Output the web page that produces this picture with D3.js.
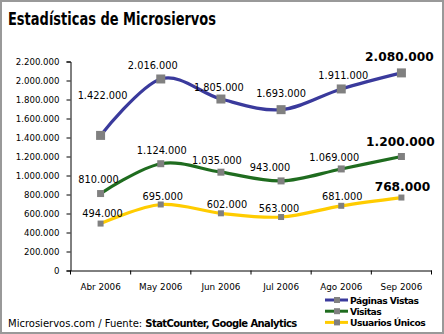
<!DOCTYPE html>
<html><head><meta charset="utf-8">
<script src="https://cdn.jsdelivr.net/npm/d3@7"></script>
<style>body{margin:0;background:#fff}svg{display:block}</style>
</head><body>
<script>
const categories = ["Abr 2006","May 2006","Jun 2006","Jul 2006","Ago 2006","Sep 2006"];
const paginasVistas = [1422000, 2016000, 1805000, 1693000, 1911000, 2080000];
const visitas = [810000, 1124000, 1035000, 943000, 1069000, 1200000];
const usuariosUnicos = [494000, 695000, 602000, 563000, 681000, 768000];
const yTicks = [0,200000,400000,600000,800000,1000000,1200000,1400000,1600000,1800000,2000000,2200000];
const seriesNames = ["Páginas Vistas","Visitas","Usuarios Únicos"];

// label nudges (dx, dy) relative to each point
const nudgePaginas = [[2,-40],[-8,-13],[-2,-12],[0,-16],[2,-13],[-2,-16]];
const nudgeVisitas = [[-2,-14],[1,-13],[-4,-12],[-11,-13],[-7,-11],[-1,-15]];
const nudgeUsuarios = [[2,-10],[2,-8],[6,-9],[-2,-9],[1,-9],[1,-11]];

const W = 444, H = 334;
const svg = d3.select("body").append("svg").attr("width", W).attr("height", H);
svg.append("rect").attr("x",1).attr("y",1).attr("width",W-2).attr("height",H-2)
  .attr("fill","#fff").attr("stroke","#999").attr("stroke-width",2);

const loc = d3.formatLocale({decimal:",", thousands:".", grouping:[3], currency:["",""]});
const fmt = loc.format(",d");

const x = d3.scaleBand().domain(categories).range([70.5, 431.5]).padding(0);
const y = d3.scaleLinear().domain([0, 2200000]).range([270.5, 61.5]);
const cx = c => x(c) + x.bandwidth()/2;

svg.append("text").attr("x",8).attr("y",25)
  .attr("font-family","DejaVu Sans").attr("font-weight","bold").attr("font-size",17)
  .attr("textLength",208).attr("lengthAdjust","spacingAndGlyphs")
  .text("Estadísticas de Microsiervos");

// y axis
const ya = svg.append("g").attr("transform","translate(70.5,0)")
  .call(d3.axisLeft(y).tickValues(yTicks).tickFormat(fmt).tickSize(4).tickPadding(7));
ya.select(".domain").attr("stroke","#000");
ya.selectAll("text").attr("font-family","DejaVu Sans").attr("font-size",8.6).attr("fill","#000");

// x axis
const xa = svg.append("g").attr("transform","translate(0,270.5)")
  .call(d3.axisBottom(x).tickSize(0).tickPadding(13));
xa.select(".domain").attr("stroke","#000");
xa.selectAll("text").attr("font-family","DejaVu Sans").attr("font-size",8.8).attr("fill","#000");
const bounds = categories.map(c => x(c)).concat([x(categories[categories.length-1]) + x.bandwidth()]);
xa.selectAll(".bt").data(bounds).enter().append("line").attr("class","bt")
  .attr("x1",d=>d).attr("x2",d=>d).attr("y1",0).attr("y2",4).attr("stroke","#000");

const series = [
  {name: seriesNames[0], values: paginasVistas, color:"#3a3a9c", marker:9, nudge:nudgePaginas},
  {name: seriesNames[1], values: visitas, color:"#1f6c1f", marker:7, nudge:nudgeVisitas},
  {name: seriesNames[2], values: usuariosUnicos, color:"#ffcc00", marker:6, nudge:nudgeUsuarios}
];

const line = d3.line().x((d,i)=>cx(categories[i])).y(d=>y(d)).curve(d3.curveCardinal.tension(0));

series.forEach(s => {
  svg.append("path").datum(s.values).attr("d", line).attr("fill","none")
    .attr("stroke", s.color).attr("stroke-width",3.2);
  svg.selectAll(null).data(s.values).enter().append("rect")
    .attr("x",(d,i)=>cx(categories[i]) - s.marker/2).attr("y",d=>y(d)-s.marker/2)
    .attr("width",s.marker).attr("height",s.marker).attr("fill","#808080");
  svg.selectAll(null).data(s.values).enter().append("text")
    .attr("x",(d,i)=>cx(categories[i]) + s.nudge[i][0])
    .attr("y",(d,i)=>y(d) + s.nudge[i][1])
    .attr("text-anchor","middle").attr("dominant-baseline","central")
    .attr("font-family","DejaVu Sans")
    .attr("font-size",(d,i)=> i===s.values.length-1 ? 12.2 : 9.8)
    .attr("font-weight",(d,i)=> i===s.values.length-1 ? "bold" : "normal")
    .attr("fill","#000")
    .text(fmt);
});

// legend
const lg = svg.append("g");
series.forEach((s,i) => {
  const yy = 300 + i*11.2;
  lg.append("line").attr("x1",325).attr("x2",348).attr("y1",yy).attr("y2",yy)
    .attr("stroke",s.color).attr("stroke-width",3);
  lg.append("rect").attr("x",334).attr("y",yy-3).attr("width",6).attr("height",6).attr("fill","#808080");
  lg.append("text").attr("x",350).attr("y",yy+3.5)
    .attr("font-family","DejaVu Sans").attr("font-weight","bold").attr("font-size",9.2)
    .attr("letter-spacing",-0.5).attr("fill","#000").text(s.name);
});

// footer
const ft = svg.append("text").attr("x",8).attr("y",327)
  .attr("font-family","DejaVu Sans").attr("font-size",10).attr("fill","#000");
ft.append("tspan").text("Microsiervos.com / Fuente: ");
ft.append("tspan").attr("font-weight","bold").attr("letter-spacing",-0.6).text("StatCounter, Google Analytics");
</script>
</body></html>
